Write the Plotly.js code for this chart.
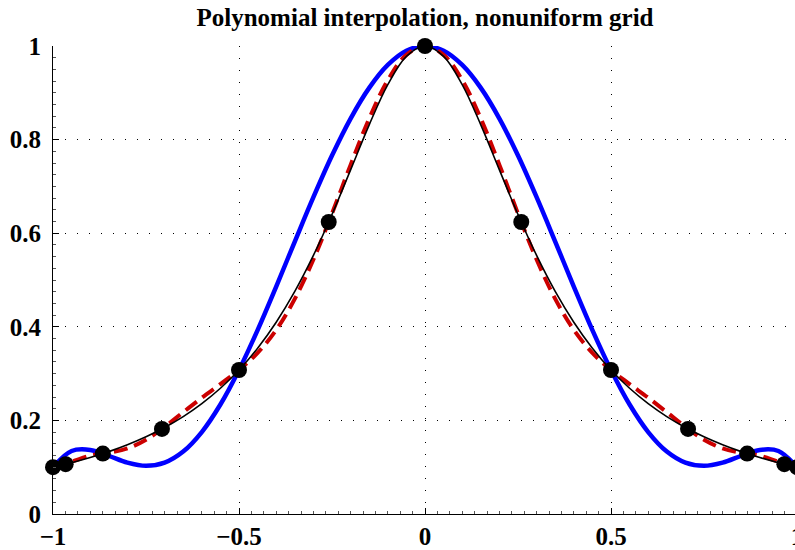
<!DOCTYPE html>
<html>
<head>
<meta charset="utf-8">
<script src="https://cdn.plot.ly/plotly-3.0.1.min.js"></script>
<style>
html,body{margin:0;padding:0;overflow:hidden;background:#fff;}
#chart{width:799px;height:550px;}
</style>
</head>
<body>
<div id="chart"></div>
<script>
// sample abscissae
const xs = [-1,-0.95,-0.9,-0.85,-0.8,-0.75,-0.7,-0.65,-0.6,-0.55,-0.5,-0.45,-0.4,-0.35,-0.3,-0.25,-0.2,-0.15,-0.1,-0.05,
  0,0.05,0.1,0.15,0.2,0.25,0.3,0.35,0.4,0.45,0.5,0.55,0.6,0.65,0.7,0.75,0.8,0.85,0.9,0.95,1];
// exact function (black)
const exactY = [0.1,0.10962,0.12063,0.13329,0.14793,0.16495,0.18484,0.20822,0.23585,0.26864,0.30769,0.35430,0.40984,0.47562,0.55249,0.64,0.73529,0.83160,0.91743,0.97800,
  1,0.97800,0.91743,0.83160,0.73529,0.64,0.55249,0.47562,0.40984,0.35430,0.30769,0.26864,0.23585,0.20822,0.18484,0.16495,0.14793,0.13329,0.12063,0.10962,0.1];
// coarse interpolant (blue)
const coarseY = [0.1,0.13462,0.13688,0.12426,0.10984,0.10299,0.10976,0.13346,0.17513,0.23395,0.30769,0.39306,0.48602,0.58218,0.67695,0.76592,0.84496,0.91045,0.95945,0.98975,
  1,0.98975,0.95945,0.91045,0.84496,0.76592,0.67695,0.58218,0.48602,0.39306,0.30769,0.23395,0.17513,0.13346,0.10976,0.10299,0.10984,0.12426,0.13688,0.13462,0.1];
// fine nonuniform-grid interpolant (red dashed)
const fineY = [0.1,0.11188,0.12468,0.13085,0.14005,0.15869,0.18608,0.21747,0.24841,0.27759,0.30769,0.34425,0.39345,0.45969,0.54378,0.64189,0.74599,0.84502,0.92696,0.98109,
  1,0.98109,0.92696,0.84502,0.74599,0.64189,0.54378,0.45969,0.39345,0.34425,0.30769,0.27759,0.24841,0.21747,0.18608,0.15869,0.14005,0.13085,0.12468,0.11188,0.1];
// grid nodes (black dots)
const nodeX = [-1,-0.96593,-0.86603,-0.70711,-0.5,-0.25882,0,0.25882,0.5,0.70711,0.86603,0.96593,1];
const nodeY = [0.1,0.10642,0.12903,0.18182,0.30769,0.62387,1,0.62387,0.30769,0.18182,0.12903,0.10642,0.1];

const xTicks = [-1,-0.5,0,0.5,1];
const xTickText = ['\u22121','\u22120.5','0','0.5','1'];
const yTicks = [0,0.2,0.4,0.6,0.8,1];
const yTickText = ['0','0.2','0.4','0.6','0.8','1'];

const traces = [
  {x: xs, y: coarseY, mode:'lines', line:{color:'#0000ff', width:4.5, shape:'spline'}, cliponaxis:false, hoverinfo:'skip'},
  {x: xs, y: fineY, mode:'lines', line:{color:'#cc0000', width:4, dash:'14px,7px', shape:'spline'}, cliponaxis:false, hoverinfo:'skip'},
  {x: xs, y: exactY, mode:'lines', line:{color:'#000000', width:1.6, shape:'spline'}, cliponaxis:false, hoverinfo:'skip'},
  {x: nodeX, y: nodeY, mode:'markers', marker:{color:'#000000', size:16}, cliponaxis:false, hoverinfo:'skip'}
];

const serif = 'Liberation Serif';
const tickFont = {family:serif, size:25, color:'#000', weight:'bold'};

const layout = {
  width: 799, height: 550,
  margin: {l:53, r:2, t:46, b:36},
  paper_bgcolor:'#fff', plot_bgcolor:'#fff',
  showlegend:false,
  title: {text:'<b>Polynomial interpolation, nonuniform grid</b>', x:425/799, xanchor:'center', y:1-17/550, yanchor:'middle',
    font:{family:serif, size:25, color:'#000'}},
  xaxis: {range:[-1,1], tickvals:xTicks, ticktext:xTickText, tickfont:tickFont, ticklabeloverflow:'allow',
    showline:true, linecolor:'#000', linewidth:1, mirror:false,
    ticks:'inside', ticklen:6, tickcolor:'#000', tickwidth:1, ticklabelstandoff:0,
    showgrid:true, gridcolor:'#000', gridwidth:1, griddash:'1px,11px', zeroline:false,
    minor:{dtick:1/30, ticks:'inside', ticklen:3, tickcolor:'#555', tickwidth:1, showgrid:false}},
  yaxis: {range:[0,1], tickvals:yTicks, ticktext:yTickText, tickfont:tickFont, ticklabeloverflow:'allow',
    showline:true, linecolor:'#000', linewidth:1, mirror:false,
    ticks:'inside', ticklen:6, tickcolor:'#000', tickwidth:1, ticklabelstandoff:6,
    showgrid:true, gridcolor:'#000', gridwidth:1, griddash:'1px,11px', zeroline:false,
    minor:{dtick:0.025, ticks:'inside', ticklen:3, tickcolor:'#555', tickwidth:1, showgrid:false}}
};

Plotly.newPlot('chart', traces, layout, {staticPlot:true, displayModeBar:false});
</script>
</body>
</html>
